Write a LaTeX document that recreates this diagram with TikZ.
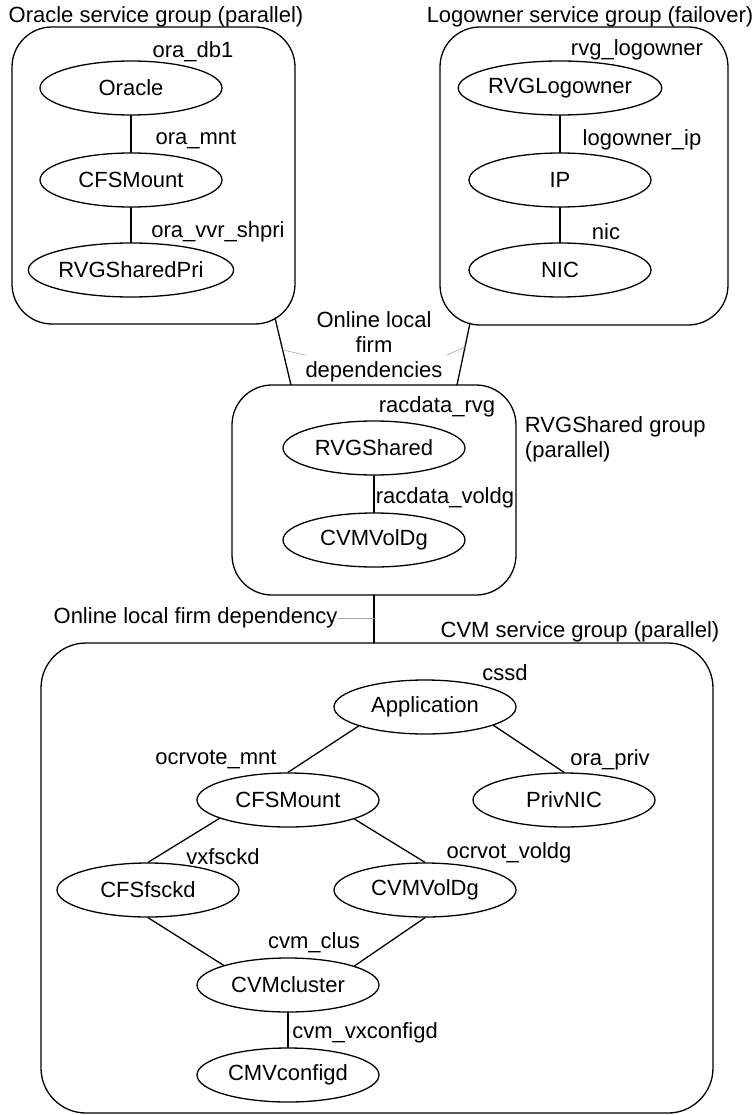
\documentclass[tikz,border=0pt]{standalone}
\usepackage{fontspec}
\setmainfont{Liberation Sans}
\usetikzlibrary{shapes.geometric}
\begin{document}
\begin{tikzpicture}[x=1pt,y=-1pt,line join=round,line cap=round,line width=1.3pt,
	font=\fontsize{22}{25}\selectfont,
	res/.style={draw,ellipse,minimum width=182pt,minimum height=54pt,inner sep=0pt},
	grp/.style={draw,rounded corners=40pt},
	lead/.style={gray!70,line width=0.6pt}]
	\useasboundingbox (0,0) rectangle (753,1115);
	% Oracle service group
	\draw[grp] (12,27) rectangle (295,324);
	\node (oratitle) at (156,17) {Oracle service group (parallel)};
	\node[res] (oracle) at (131,88) {Oracle};
	\node[res] (oramnt) at (131,180) {CFSMount};
	\node[res] (orapri) at (131,270) {RVGSharedPri};
	\node (lbldb) at (193,52) {ora\_db1};
	\node (lblmnt) at (196,140) {ora\_mnt};
	\node (lblshpri) at (218,232) {ora\_vvr\_shpri};
	\draw (oracle) -- (oramnt);
	\draw (oramnt) -- (orapri);
	% Logowner service group
	\draw[grp] (440,27) rectangle (728,325);
	\node (logtitle) at (590,17) {Logowner service group (failover)};
	\node[res] (logowner) at (560,88) {RVGLogowner};
	\node[res] (ip) at (560,180) {IP};
	\node[res] (nic) at (560,270) {NIC};
	\node (lbllog) at (637,50) {rvg\_logowner};
	\node (lblip) at (642,140) {logowner\_ip};
	\node (lblnic) at (606,232) {nic};
	\draw (logowner) -- (ip);
	\draw (ip) -- (nic);
	% RVGShared group
	\draw[grp] (232,385) rectangle (516,595);
	\node[align=left,anchor=west] (rvgtitle) at (521,439) {RVGShared group\\(parallel)};
	\node[res] (rvgshared) at (374,448) {RVGShared};
	\node[res] (racvol) at (374,540) {CVMVolDg};
	\node (lblrvg) at (437,407) {racdata\_rvg};
	\node (lblracvol) at (445,498) {racdata\_voldg};
	\draw (rvgshared) -- (racvol);
	% dependencies between groups
	\coordinate (depla) at (275,318); \coordinate (deplb) at (291,385);
	\coordinate (depra) at (470,323); \coordinate (deprb) at (457,385);
	\draw (depla) -- (deplb);
	\draw (depra) -- (deprb);
	\node[align=center] (deptxt) at (374,347) {Online local\\firm\\dependencies};
	\coordinate (leadl) at (283,350); \coordinate (leadr) at (465,347);
	\draw[lead] (leadl) -- (305,355);
	\draw[lead] (leadr) -- (447,355);
	\coordinate (cvmtop) at (374,643); \coordinate (rvgbot) at (374,595);
	\draw (rvgbot) -- (cvmtop);
	\node[anchor=east,inner sep=0pt] (deptxtb) at (338,618) {Online local firm dependency};
	\coordinate (leadb) at (374,618);
	\draw[lead] (deptxtb.east) -- (leadb);
	% CVM service group
	\draw[grp,rounded corners=45pt] (41,643) rectangle (713,1113);
	\node (cvmtitle) at (580,632) {CVM service group (parallel)};
	\node[res] (app) at (425,707) {Application};
	\node[res] (cfsmount) at (288,800) {CFSMount};
	\node[res] (privnic) at (564,800) {PrivNIC};
	\node[res] (cfsfsckd) at (148,890) {CFSfsckd};
	\node[res] (cvmvoldg) at (425,890) {CVMVolDg};
	\node[res] (cvmcluster) at (288,985) {CVMcluster};
	\node[res] (cmvconfigd) at (288,1075) {CMVconfigd};
	\node (lblcssd) at (505,673) {cssd};
	\node (lblocrmnt) at (216,760) {ocrvote\_mnt};
	\node (lblpriv) at (610,760) {ora\_priv};
	\node (lblvxfs) at (223,857) {vxfsckd};
	\node (lblocrvol) at (509,853) {ocrvot\_voldg};
	\node (lblclus) at (314,943) {cvm\_clus};
	\node (lblvxcfg) at (365,1033) {cvm\_vxconfigd};
	\draw (app.196) -- (cfsmount.north);
	\draw (app.345) -- (privnic.north);
	\draw (cfsmount.195) -- (cfsfsckd.north);
	\draw (cfsmount.344) -- (cvmvoldg.north);
	\draw (cfsfsckd.south) -- (cvmcluster.163);
	\draw (cvmvoldg.south) -- (cvmcluster.16);
	\draw (cvmcluster) -- (cmvconfigd);
\end{tikzpicture}
\end{document}
